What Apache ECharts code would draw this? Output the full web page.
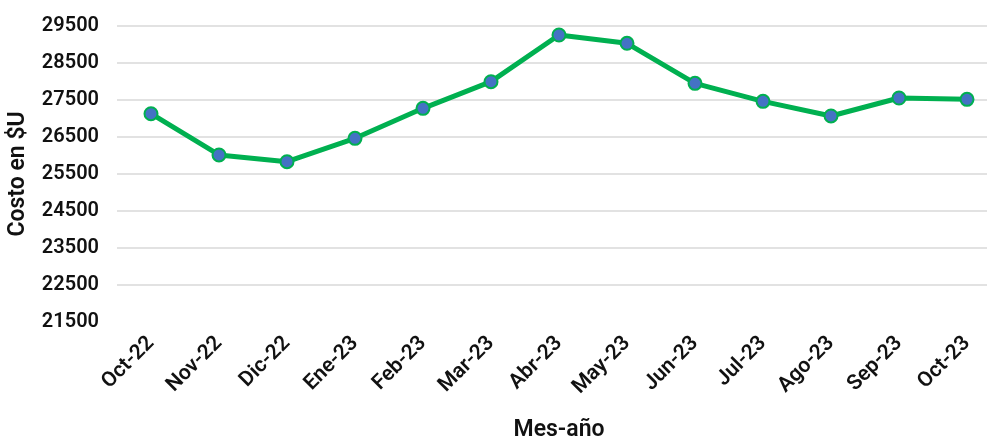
<!DOCTYPE html>
<html>
<head>
<meta charset="utf-8">
<script src="https://cdn.jsdelivr.net/npm/echarts@6/dist/echarts.min.js"></script>
<style>
html,body{margin:0;padding:0;background:#fff;}
#chart{width:987px;height:436px;}
</style>
</head>
<body>
<div id="chart"></div>
<script>
const categories = ['Oct-22','Nov-22','Dic-22','Ene-23','Feb-23','Mar-23','Abr-23','May-23','Jun-23','Jul-23','Ago-23','Sep-23','Oct-23'];
const costValues = [27130, 26014, 25833, 26464, 27275, 27995, 29257, 29032, 27950, 27464, 27068, 27554, 27518];
const yMin = 21500;
const yMax = 29500;
const yStep = 1000;

const chart = echarts.init(document.getElementById('chart'), null, {renderer: 'canvas'});
const font = 'Roboto';
chart.setOption({
  animation: false,
  backgroundColor: '#ffffff',
  grid: {left: 117, right: -14, top: 26, bottom: 114, containLabel: false, outerBoundsMode: 'none'},
  xAxis: {
    type: 'category',
    data: categories,
    boundaryGap: true,
    axisLine: {show: false},
    axisTick: {show: false},
    splitLine: {show: false},
    axisLabel: {
      rotate: 45, margin: 18, color: '#111', fontFamily: font, fontWeight: 600, fontSize: 21, interval: 0
    },
    name: 'Mes-año',
    nameLocation: 'middle',
    nameGap: 97,
    nameTextStyle: {color: '#111', fontFamily: font, fontWeight: 600, fontSize: 23}
  },
  yAxis: {
    type: 'value',
    min: yMin, max: yMax, interval: yStep,
    axisLine: {show: false},
    axisTick: {show: false},
    axisLabel: {margin: 18, color: '#111', fontFamily: font, fontWeight: 600, fontSize: 20, formatter: v => String(v)},
    splitLine: {show: true, showMinLine: false, lineStyle: {color: '#d9d9d9', width: 1.5}},
    name: 'Costo en $U',
    nameLocation: 'middle',
    nameGap: 87,
    nameMoveOverlap: false,
    nameTextStyle: {color: '#111', fontFamily: font, fontWeight: 600, fontSize: 23}
  },
  series: [{
    type: 'line',
    data: costValues,
    lineStyle: {color: '#00b050', width: 5},
    symbol: 'circle',
    symbolSize: 13,
    itemStyle: {color: '#4472c4', borderColor: '#00b050', borderWidth: 2},
    z: 3
  }]
});
</script>
</body>
</html>
